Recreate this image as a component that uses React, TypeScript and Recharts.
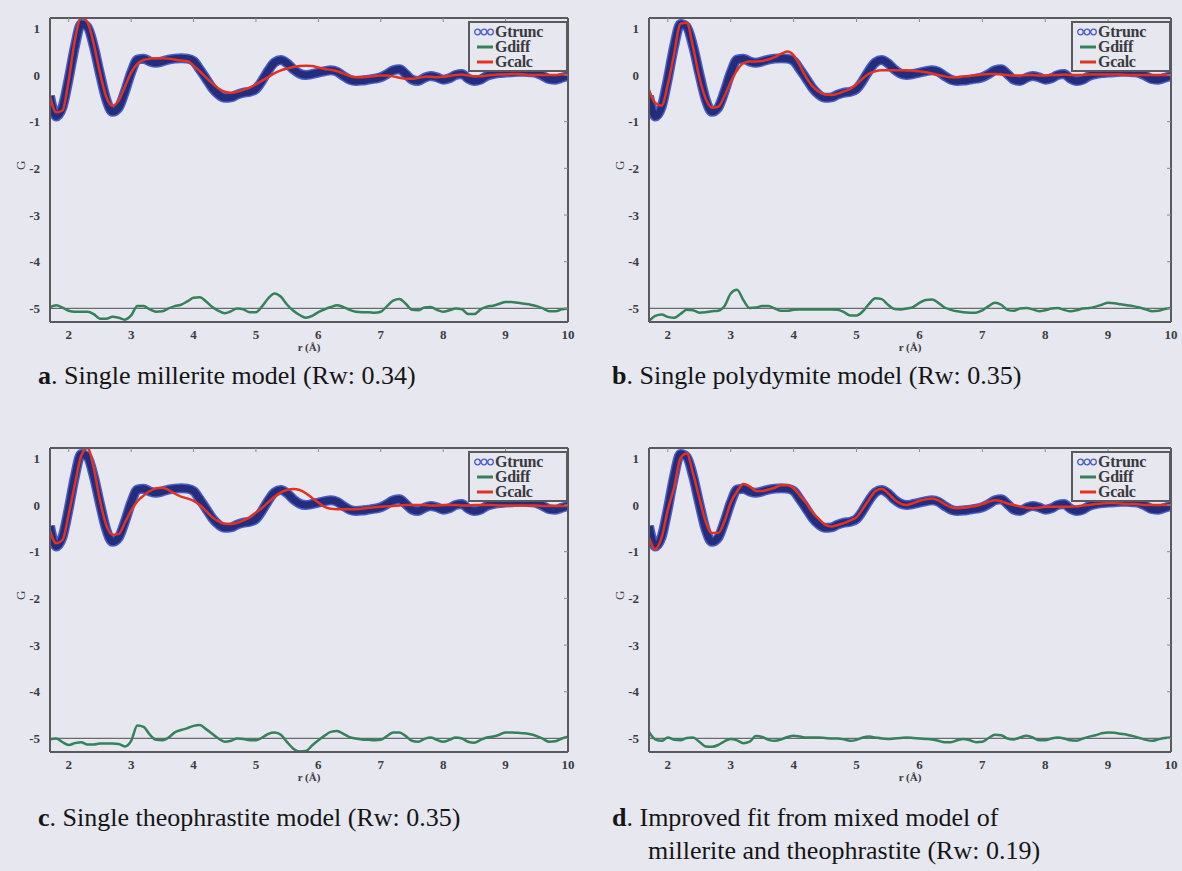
import { LineChart, Line, XAxis, YAxis, ReferenceLine, Legend } from 'recharts';

// r (Å) grid shared by all four panels
const R = [
  1.7, 1.8, 1.9, 2.0, 2.1, 2.2, 2.3, 2.4, 2.5, 2.6,
  2.7, 2.8, 2.9, 3.0, 3.1, 3.2, 3.3, 3.4, 3.5, 3.6,
  3.7, 3.8, 3.9, 4.0, 4.1, 4.2, 4.3, 4.4, 4.5, 4.6,
  4.7, 4.8, 4.9, 5.0, 5.1, 5.2, 5.3, 5.4, 5.5, 5.6,
  5.7, 5.8, 5.9, 6.0, 6.1, 6.2, 6.3, 6.4, 6.5, 6.6,
  6.7, 6.8, 6.9, 7.0, 7.1, 7.2, 7.3, 7.4, 7.5, 7.6,
  7.7, 7.8, 7.9, 8.0, 8.1, 8.2, 8.3, 8.4, 8.5, 8.6,
  8.7, 8.8, 8.9, 9.0, 9.1, 9.2, 9.3, 9.4, 9.5, 9.6,
  9.7, 9.8, 9.9, 10.0,
];

// experimental G(r), same in every panel
const G_TRUNC = [
  -0.45, -0.89, -0.69, -0.08, 0.62, 1.09, 1.03, 0.62, 0.03, -0.52,
  -0.79, -0.7, -0.36, 0.05, 0.33, 0.35, 0.29, 0.26, 0.29, 0.33,
  0.35, 0.36, 0.35, 0.3, 0.12, -0.08, -0.28, -0.42, -0.49, -0.48,
  -0.42, -0.38, -0.36, -0.3, -0.12, 0.1, 0.27, 0.32, 0.25, 0.12,
  0.03, 0.0, 0.02, 0.05, 0.08, 0.1, 0.07, -0.02, -0.1, -0.13,
  -0.12, -0.1, -0.08, -0.05, 0.02, 0.1, 0.12, 0.02, -0.1, -0.13,
  -0.06, -0.02, -0.05, -0.1, -0.07, 0.0, 0.02, -0.08, -0.13, -0.1,
  -0.02, 0.02, 0.04, 0.05, 0.06, 0.07, 0.07, 0.06, 0.04, -0.02,
  -0.09, -0.1, -0.06, -0.02,
];

// a. millerite
const CALC_A = [
  -0.45, -0.8, -0.76, -0.11, 0.76, 1.23, 1.13, 0.67, 0.05, -0.46,
  -0.66, -0.55, -0.25, 0.05, 0.24, 0.32, 0.35, 0.36, 0.36, 0.35,
  0.33, 0.31, 0.3, 0.2, 0.08, -0.05, -0.18, -0.29, -0.36, -0.38,
  -0.36, -0.32, -0.27, -0.2, -0.12, -0.04, 0.04, 0.1, 0.14, 0.17,
  0.19, 0.2, 0.19, 0.16, 0.13, 0.11, 0.08, 0.03, -0.02, -0.05,
  -0.05, -0.04, -0.02, -0.01, -0.01, -0.03, -0.06, -0.08, -0.08, -0.06,
  -0.04, -0.04, -0.05, -0.04, -0.02, 0.0, 0.01, -0.01, -0.03, -0.03,
  -0.01, 0.0, 0.01, 0.01, 0.02, 0.02, 0.01, 0.0, 0.0, 0.0,
  0.0, 0.0, 0.01, 0.01,
];
const DIFF_A = [
  -4.97, -4.93, -4.98, -5.05, -5.07, -5.07, -5.07, -5.12, -5.22, -5.22,
  -5.18, -5.2, -5.24, -5.15, -4.95, -4.95, -5.02, -5.07, -5.06, -5.0,
  -4.95, -4.92, -4.85, -4.77, -4.76, -4.85, -4.97, -5.05, -5.1, -5.06,
  -5.0, -5.02, -5.08, -5.08, -4.95, -4.78, -4.68, -4.75, -4.92, -5.05,
  -5.14, -5.2, -5.16, -5.08, -5.02, -4.97, -4.93, -4.97, -5.03, -5.07,
  -5.08, -5.08, -5.09, -5.07, -4.95, -4.83, -4.8, -4.9, -5.03, -5.04,
  -4.98, -4.97, -5.03, -5.07, -5.04, -5.0, -5.02, -5.12, -5.12, -5.02,
  -4.96, -4.94, -4.9, -4.86, -4.86, -4.88, -4.9, -4.92, -4.95, -5.0,
  -5.06, -5.06, -5.02, -5.0,
];

// b. polydymite
const CALC_B = [
  -0.32, -0.6, -0.66, -0.2, 0.45, 1.1, 1.12, 0.6, -0.05, -0.5,
  -0.7, -0.68, -0.45, -0.15, 0.1, 0.25, 0.29, 0.29, 0.3, 0.33,
  0.38, 0.45, 0.5, 0.42, 0.2, -0.05, -0.24, -0.36, -0.42, -0.43,
  -0.4, -0.35, -0.3, -0.2, -0.07, 0.03, 0.08, 0.1, 0.1, 0.1,
  0.1, 0.1, 0.09, 0.08, 0.06, 0.03, 0.0, -0.03, -0.05, -0.05,
  -0.03, -0.02, 0.0, 0.01, 0.02, 0.02, 0.01, 0.0, -0.01, -0.01,
  0.0, 0.0, -0.01, -0.01, 0.0, 0.0, 0.01, 0.0, 0.0, 0.0,
  0.01, 0.01, 0.01, 0.01, 0.01, 0.01, 0.0, 0.0, 0.0, 0.0,
  0.0, 0.0, 0.0, 0.0,
];
const DIFF_B = [
  -5.27, -5.16, -5.13, -5.18, -5.2, -5.12, -5.03, -5.04, -5.09, -5.08,
  -5.06, -5.05, -4.95, -4.68, -4.6, -4.82, -4.99, -4.98, -4.95, -4.95,
  -5.0, -5.05, -5.05, -5.03, -5.02, -5.02, -5.02, -5.02, -5.02, -5.02,
  -5.03, -5.08, -5.15, -5.15, -5.06, -4.9, -4.78, -4.8, -4.92, -5.01,
  -5.02, -5.0, -4.97, -4.88, -4.82, -4.81, -4.88, -4.98, -5.03, -5.06,
  -5.08, -5.09, -5.09, -5.04, -4.95, -4.88, -4.92, -5.03, -5.05, -5.0,
  -4.99, -5.02, -5.06, -5.04, -5.0, -4.99, -5.03, -5.06, -5.04, -5.0,
  -4.99, -4.96, -4.92, -4.88, -4.89, -4.91, -4.93, -4.95, -4.98, -5.02,
  -5.06, -5.05, -5.01, -4.99,
];

// c. theophrastite
const CALC_C = [
  -0.55, -0.82, -0.75, -0.2, 0.45, 1.05, 1.22, 0.8, 0.1, -0.42,
  -0.64, -0.62, -0.38, -0.12, 0.08, 0.2, 0.3, 0.36, 0.37, 0.32,
  0.24, 0.18, 0.14, 0.09, 0.0, -0.13, -0.26, -0.35, -0.4, -0.41,
  -0.38, -0.33, -0.26, -0.16, -0.06, 0.06, 0.18, 0.27, 0.32, 0.34,
  0.32, 0.25, 0.15, 0.05, -0.04, -0.08, -0.09, -0.09, -0.09, -0.09,
  -0.08, -0.06, -0.05, -0.04, -0.03, -0.02, -0.01, 0.0, 0.0, 0.0,
  0.0, -0.01, -0.01, 0.0, 0.0, 0.0, -0.01, -0.01, 0.0, 0.0,
  0.0, 0.0, -0.01, -0.01, -0.01, -0.01, -0.01, -0.01, -0.01, -0.02,
  -0.02, -0.02, -0.02, -0.02,
];
const DIFF_C = [
  -5.02, -5.0, -5.08, -5.14, -5.1, -5.08, -5.13, -5.13, -5.11, -5.11,
  -5.11, -5.12, -5.17, -5.05, -4.72, -4.75, -4.92, -5.03, -5.04, -4.98,
  -4.87, -4.82, -4.78, -4.73, -4.71, -4.8, -4.9, -5.0, -5.07, -5.05,
  -5.0, -5.01, -5.04, -5.04, -4.98, -4.9, -4.87, -4.92, -5.08, -5.22,
  -5.28, -5.27, -5.15, -5.04, -4.94, -4.86, -4.84, -4.9, -4.97, -5.0,
  -5.02, -5.03, -5.04, -5.03, -4.95, -4.87, -4.87, -4.95, -5.05, -5.07,
  -5.01, -4.98, -5.03, -5.07, -5.03, -4.98, -5.0, -5.07, -5.09, -5.03,
  -4.98, -4.96, -4.92, -4.87, -4.87, -4.88, -4.89, -4.91, -4.95, -5.01,
  -5.07, -5.06, -5.0, -4.96,
];

// d. millerite + theophrastite
const CALC_D = [
  -0.7, -0.95, -0.7, -0.1, 0.38, 1.0, 1.1, 0.68, 0.15, -0.35,
  -0.6, -0.6, -0.35, 0.05, 0.29, 0.45, 0.4, 0.3, 0.3, 0.33,
  0.37, 0.42, 0.42, 0.36, 0.2, 0.04, -0.16, -0.3, -0.42, -0.46,
  -0.43, -0.39, -0.33, -0.26, -0.08, 0.12, 0.3, 0.35, 0.25, 0.12,
  0.03, 0.0, 0.04, 0.09, 0.12, 0.14, 0.1, 0.02, -0.05, -0.07,
  -0.06, -0.04, -0.02, 0.02, 0.07, 0.1, 0.08, 0.03, 0.0, -0.03,
  -0.06, -0.07, -0.06, -0.04, -0.04, -0.04, -0.04, -0.04, -0.03, -0.01,
  0.0, 0.02, 0.03, 0.04, 0.04, 0.03, 0.02, 0.02, 0.01, 0.0,
  0.0, 0.0, 0.0, 0.0,
];
const DIFF_D = [
  -4.86, -5.02, -5.05, -4.98, -5.03, -5.04, -4.99, -4.98, -5.07, -5.17,
  -5.18, -5.14, -5.06, -5.01, -5.04, -5.1, -5.07, -4.95, -4.97, -5.03,
  -5.05, -5.02, -4.97, -4.94, -4.96, -4.98, -4.98, -4.98, -4.99, -5.0,
  -5.0, -5.02, -5.05, -5.03, -4.98, -4.96, -4.98, -5.0, -5.01, -5.0,
  -4.99, -4.98, -4.99, -5.0, -5.01, -5.02, -5.05, -5.08, -5.08, -5.04,
  -5.01, -5.04, -5.08, -5.07, -4.99, -4.92, -4.93, -5.0, -5.02, -4.98,
  -4.94, -4.98, -5.04, -5.04, -5.0, -4.98, -5.0, -5.04, -5.05, -5.0,
  -4.96, -4.93, -4.89, -4.87, -4.88, -4.9, -4.92, -4.95, -4.99, -5.03,
  -5.05, -5.02, -4.99, -4.98,
];

const X_TICKS = [2, 3, 4, 5, 6, 7, 8, 9, 10];
const Y_TICKS = [-5, -4, -3, -2, -1, 0, 1];
const LEGEND_ITEMS = ['Gtrunc', 'Gdiff', 'Gcalc'];

const BG = '#e6e7ef';
const FRAME = '#5a5a5e';
const NAVY = '#232d7c';
const NAVY_EDGE = '#4a5cc6';
const RED = '#e5321f';
const GREEN = '#34825a';
const SERIF = '"Liberation Serif", "DejaVu Serif", serif';

const tickStyle = { fontSize: 13, fontWeight: 700, fill: '#3c3c40', fontFamily: SERIF };

function LegendBox() {
  const row = { display: 'flex', alignItems: 'center', height: 15, lineHeight: '15px' };
  return (
    <div style={{
      border: `2px solid ${FRAME}`, background: BG, padding: '1px 3px 1px 4px',
      fontFamily: SERIF, fontSize: 16, fontWeight: 600, color: '#3a3a3e',
    }}>
      {LEGEND_ITEMS.map((name) => (
        <div key={name} style={row}>
          {name === 'Gtrunc' ? (
            <svg width={20} height={10}>
              {[3.5, 10, 16.5].map((cx) => (
                <circle key={cx} cx={cx} cy={5} r={2.8} fill="none" stroke={NAVY_EDGE} strokeWidth={1.3} />
              ))}
            </svg>
          ) : (
            <svg width={20} height={10}>
              <line x1={3} x2={19} y1={5} y2={5} stroke={name === 'Gdiff' ? GREEN : RED} strokeWidth={3} />
            </svg>
          )}
          <span style={{ marginLeft: 1, letterSpacing: -0.3 }}>{name}</span>
        </div>
      ))}
    </div>
  );
}

function Panel({ left, top, width, gcalc, gdiff }: {
  left: number; top: number; width: number; gcalc: number[]; gdiff: number[];
}) {
  const data = R.map((r, i) => ({ r, gtrunc: G_TRUNC[i], gcalc: gcalc[i], gdiff: gdiff[i] }));
  const axisLine = { stroke: FRAME, strokeWidth: 2 };
  return (
    <div style={{ position: 'absolute', left, top }}>
      <LineChart width={width} height={360} data={data} margin={{ top: 18, right: 22, left: 0, bottom: 0 }}>
        <XAxis
          dataKey="r" type="number" domain={[1.7, 10]} ticks={X_TICKS} allowDataOverflow
          height={38} tickLine={false} tickMargin={2} axisLine={axisLine} tick={tickStyle}
          label={{ value: 'r (Å)', position: 'insideBottom', offset: 9, style: { fontSize: 11, fontWeight: 700, fill: '#3c3c40', fontFamily: SERIF } }}
        />
        <XAxis
          xAxisId="top" orientation="top" mirror dataKey="r" type="number" domain={[1.7, 10]}
          ticks={X_TICKS} allowDataOverflow tickSize={4} tickFormatter={() => ''}
          axisLine={axisLine} tickLine={{ stroke: '#8a8a90' }}
        />
        <YAxis
          type="number" domain={[-5.29, 1.22]} ticks={Y_TICKS} allowDataOverflow width={50}
          tickLine={false} tickMargin={4} axisLine={axisLine} tick={tickStyle}
          label={{ value: 'G', angle: -90, position: 'insideLeft', offset: 20, style: { fontSize: 13, fill: '#3c3c40', fontFamily: SERIF } }}
        />
        <YAxis
          yAxisId="right" orientation="right" mirror type="number" domain={[-5.29, 1.22]}
          ticks={Y_TICKS} allowDataOverflow tickSize={4} tickFormatter={() => ''}
          axisLine={axisLine} tickLine={{ stroke: '#8a8a90' }}
        />
        <ReferenceLine y={-5} stroke="#6c6c70" strokeWidth={1.3} />
        <Line type="monotone" dataKey="gtrunc" stroke={NAVY_EDGE} strokeWidth={10} dot={false} isAnimationActive={false} />
        <Line type="monotone" dataKey="gtrunc" stroke={NAVY} strokeWidth={7} dot={false} isAnimationActive={false} />
        <Line type="monotone" dataKey="gdiff" stroke={GREEN} strokeWidth={2.5} dot={false} isAnimationActive={false} />
        <Line type="monotone" dataKey="gcalc" stroke={RED} strokeWidth={2.5} dot={false} isAnimationActive={false} />
        <Legend
          content={<LegendBox />} layout="vertical" verticalAlign="middle" align="center"
          wrapperStyle={{ top: 21, left: width - 22 - 100, width: 100 }}
        />
      </LineChart>
    </div>
  );
}

const captionStyle = {
  position: 'absolute' as const, fontFamily: SERIF, fontSize: 26, lineHeight: '30px',
  color: '#151515', whiteSpace: 'nowrap' as const,
};

export default function App() {
  return (
    <div style={{ position: 'absolute', left: 0, top: 0, width: 1182, height: 871, background: BG, overflow: 'hidden' }}>
      <Panel left={0} top={0} width={590} gcalc={CALC_A} gdiff={DIFF_A} />
      <Panel left={599} top={0} width={594} gcalc={CALC_B} gdiff={DIFF_B} />
      <Panel left={0} top={430} width={590} gcalc={CALC_C} gdiff={DIFF_C} />
      <Panel left={599} top={430} width={594} gcalc={CALC_D} gdiff={DIFF_D} />
      <div style={{ ...captionStyle, left: 38, top: 361 }}><b>a</b>. Single millerite model (Rw: 0.34)</div>
      <div style={{ ...captionStyle, left: 612, top: 361 }}><b>b</b>. Single polydymite model (Rw: 0.35)</div>
      <div style={{ ...captionStyle, left: 38, top: 803 }}><b>c</b>. Single theophrastite model (Rw: 0.35)</div>
      <div style={{ ...captionStyle, left: 612, top: 803 }}><b>d</b>. Improved fit from mixed model of</div>
      <div style={{ ...captionStyle, left: 648, top: 836 }}>millerite and theophrastite (Rw: 0.19)</div>
    </div>
  );
}
